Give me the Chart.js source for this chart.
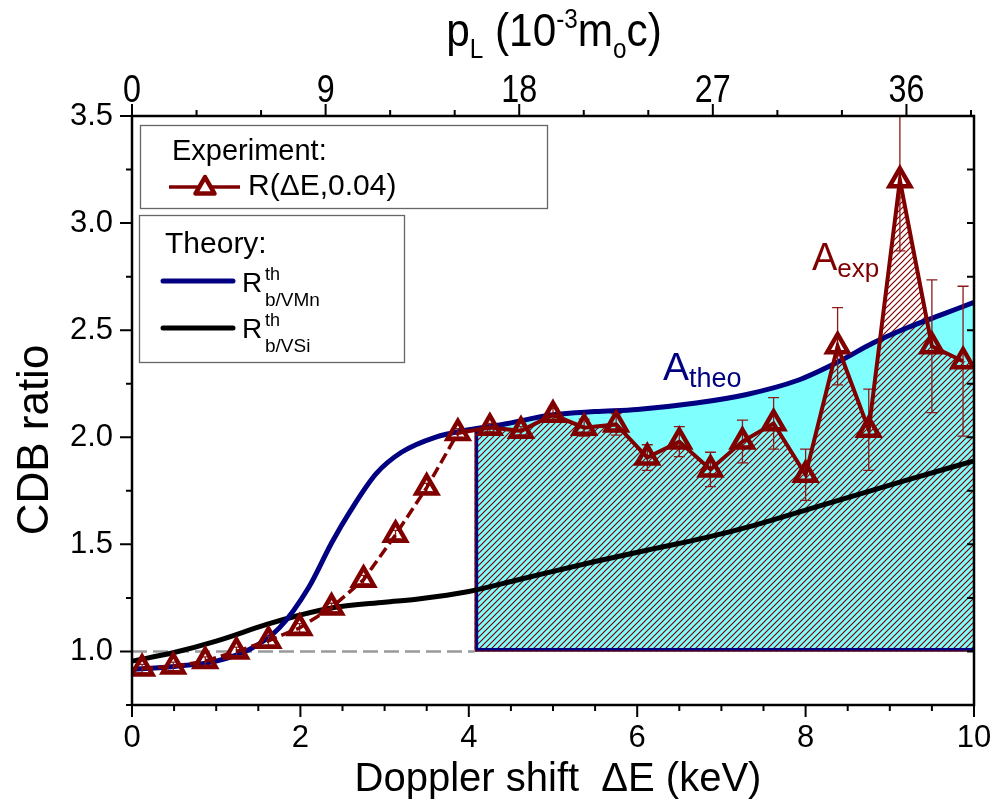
<!DOCTYPE html>
<html>
<head>
<meta charset="utf-8">
<script src="https://cdn.jsdelivr.net/npm/chart.js@4.4.0/dist/chart.umd.min.js"></script>
<style>
  html, body { margin: 0; padding: 0; background: #fff; }
  #wrap { width: 997px; height: 807px; position: relative; }
</style>
</head>
<body>
<div id="wrap"><canvas id="myChart"></canvas></div>
<script>
// measured CDB ratio R(dE, 0.04)
const expE = [0.12, 0.49, 0.87, 1.24, 1.62, 1.99, 2.37, 2.75, 3.13, 3.50, 3.87, 4.25, 4.62, 5.00,
              5.37, 5.75, 6.12, 6.50, 6.87, 7.25, 7.62, 8.00, 8.38, 8.75, 9.12, 9.50, 9.87];
const expR = [0.92, 0.93, 0.955, 1.0, 1.05, 1.11, 1.205, 1.335, 1.545, 1.765, 2.02, 2.045, 2.03, 2.105,
              2.045, 2.06, 1.905, 1.98, 1.85, 1.98, 2.065, 1.825, 2.425, 2.035, 3.2, 2.425, 2.355];
const expErr = [0.02, 0.02, 0.02, 0.02, 0.02, 0.02, 0.02, 0.02, 0.02, 0.02, 0.02, 0.02, 0.02, 0.03,
                0.04, 0.05, 0.06, 0.07, 0.08, 0.1, 0.12, 0.12, 0.18, 0.19, 0.33, 0.31, 0.35];

// theory, b/VMn
const vmnE = [0, 0.5, 1.0, 1.4, 1.75, 2.1, 2.375, 2.6, 2.9, 3.2, 3.6, 4.0, 4.4, 5.0, 5.5, 6.0,
              6.7, 7.3, 7.9, 8.4, 8.8, 9.2, 9.6, 10];
const vmnR = [0.916, 0.93, 0.955, 1.01, 1.11, 1.3, 1.51, 1.66, 1.83, 1.93, 2.0, 2.035, 2.06, 2.105, 2.12, 2.13,
              2.16, 2.2, 2.265, 2.355, 2.44, 2.51, 2.57, 2.63];

// theory, b/VSi
const vsiE = [0, 0.5, 1.0, 1.6, 2.0, 2.4, 3.0, 3.4, 4.0, 4.6, 5.5, 6.2, 6.8, 7.4, 8.0, 8.6, 9.2, 10];
const vsiR = [0.955, 0.995, 1.048, 1.126, 1.17, 1.205, 1.23, 1.245, 1.28, 1.336, 1.42, 1.48, 1.53, 1.59,
              1.66, 1.73, 1.8, 1.89];

const shadeStart = 4.07;   // keV, left edge of the shaded areas
const refLevel = 1.0;

const xTicks = [0, 2, 4, 6, 8, 10];
const xMinor = [0.5, 1, 1.5, 2.5, 3, 3.5, 4.5, 5, 5.5, 6.5, 7, 7.5, 8.5, 9, 9.5];
const yTicks = [1.0, 1.5, 2.0, 2.5, 3.0, 3.5];
const yMinor = [0.75, 1.25, 1.75, 2.25, 2.75, 3.25];
const pTicks = [0, 9, 18, 27, 36];
const pMinor = [3, 6, 12, 15, 21, 24, 30, 33, 39];
const pPerKeV = 3.914;     // p_L (10^-3 m0c) per keV of Doppler shift

const red = '#800000';
const navy = '#000080';
const sans = '"Liberation Sans", Arial, sans-serif';

function hatchPattern(ctx) {
    const c = document.createElement('canvas');
    c.width = 6; c.height = 6;
    const g = c.getContext('2d');
    g.strokeStyle = red;
    g.lineWidth = 1.2;
    g.beginPath();
    g.moveTo(0, 6); g.lineTo(6, 0);
    g.moveTo(-1, 1); g.lineTo(1, -1);
    g.moveTo(5, 7); g.lineTo(7, 5);
    g.stroke();
    return ctx.createPattern(c, 'repeat');
}

function theoPath(chart, ctx, x0, y1) {
    const line = chart.getDatasetMeta(1).dataset;
    line.updateControlPoints(chart.chartArea, 'x');
    ctx.beginPath();
    line.path(ctx);
    ctx.lineTo(chart.chartArea.right, y1);
    ctx.lineTo(x0 - 20, y1);
    ctx.closePath();
}

function expPath(chart, ctx, y1) {
    const pts = chart.getDatasetMeta(0).data;
    ctx.beginPath();
    ctx.moveTo(pts[0].x, y1);
    pts.forEach(p => ctx.lineTo(p.x, p.y));
    ctx.lineTo(chart.chartArea.right, pts[pts.length - 1].y);
    ctx.lineTo(chart.chartArea.right, y1);
    ctx.closePath();
}

const areas = {
    id: 'areas',
    beforeDatasetsDraw(chart) {
        const {ctx, chartArea: a, scales: {x, y}} = chart;
        const x0 = x.getPixelForValue(shadeStart);
        const y1 = y.getPixelForValue(refLevel);
        ctx.save();
        ctx.beginPath();
        ctx.rect(x0, a.top, a.right - x0, a.bottom - a.top);
        ctx.clip();

        theoPath(chart, ctx, x0, y1);
        ctx.fillStyle = '#80ffff';
        ctx.fill();

        expPath(chart, ctx, y1);
        ctx.fillStyle = hatchPattern(ctx);
        ctx.fill();

        // outline of the two areas (left and bottom edges)
        ctx.save();
        theoPath(chart, ctx, x0, y1);
        ctx.clip();
        ctx.beginPath();
        ctx.moveTo(x0, a.top);
        ctx.lineTo(x0, y1);
        ctx.lineTo(a.right, y1);
        ctx.strokeStyle = navy;
        ctx.lineWidth = 7;
        ctx.stroke();
        ctx.restore();

        expPath(chart, ctx, y1);
        ctx.clip();
        ctx.beginPath();
        ctx.moveTo(x0, a.top);
        ctx.lineTo(x0, y1);
        ctx.lineTo(a.right, y1);
        ctx.strokeStyle = red;
        ctx.lineWidth = 2;
        ctx.stroke();
        ctx.restore();
    },
    beforeDatasetDraw(chart, args) {
        if (args.index !== 0) return;
        const {ctx, chartArea: a, scales: {x, y}} = chart;
        ctx.save();
        ctx.beginPath();
        ctx.rect(a.left, a.top, a.right - a.left, a.bottom - a.top);
        ctx.clip();
        ctx.strokeStyle = '#8b1a1a';
        ctx.lineWidth = 1.3;
        ctx.beginPath();
        expE.forEach((e, i) => {
            const px = x.getPixelForValue(e);
            const top = y.getPixelForValue(expR[i] + expErr[i]);
            const bot = y.getPixelForValue(expR[i] - expErr[i]);
            ctx.moveTo(px, top); ctx.lineTo(px, bot);
            ctx.moveTo(px - 5.5, top); ctx.lineTo(px + 5.5, top);
            ctx.moveTo(px - 5.5, bot); ctx.lineTo(px + 5.5, bot);
        });
        ctx.stroke();
        ctx.restore();
    }
};

function richText(ctx, parts, x, base, align) {
    let w = 0;
    parts.forEach(p => { ctx.font = p.font; w += ctx.measureText(p.t).width; });
    let cx = align === 'center' ? x - w / 2 : x;
    parts.forEach(p => {
        ctx.font = p.font;
        ctx.fillText(p.t, cx, base + (p.dy || 0));
        cx += ctx.measureText(p.t).width;
    });
}

function triangle(ctx, cx, cy, r) {
    ctx.beginPath();
    for (let k = 0; k < 3; k++) {
        const ang = -Math.PI / 2 + k * 2 * Math.PI / 3;
        const px = cx + Math.cos(ang) * r, py = cy + Math.sin(ang) * r;
        if (k === 0) ctx.moveTo(px, py); else ctx.lineTo(px, py);
    }
    ctx.closePath();
}

const decor = {
    id: 'decor',
    afterDraw(chart) {
        const {ctx, chartArea: a, scales: {x, y, x2}} = chart;
        ctx.save();

        // frame and ticks
        ctx.strokeStyle = '#000';
        ctx.lineWidth = 2.5;
        ctx.strokeRect(a.left, a.top, a.right - a.left, a.bottom - a.top);
        ctx.lineWidth = 2;
        ctx.beginPath();
        const tick = (xa, ya, xb, yb) => { ctx.moveTo(xa, ya); ctx.lineTo(xb, yb); };
        xTicks.forEach(v => { const p = x.getPixelForValue(v); tick(p, a.bottom, p, a.bottom + 12); });
        xMinor.forEach(v => { const p = x.getPixelForValue(v); tick(p, a.bottom, p, a.bottom + 6); });
        pTicks.forEach(v => { const p = x2.getPixelForValue(v); tick(p, a.top, p, a.top - 12); });
        pMinor.forEach(v => { const p = x2.getPixelForValue(v); tick(p, a.top, p, a.top - 6); });
        yTicks.forEach(v => { const p = y.getPixelForValue(v); tick(a.left, p, a.left - 12, p); tick(a.right, p, a.right - 7, p); });
        yMinor.forEach(v => { const p = y.getPixelForValue(v); tick(a.left, p, a.left - 6, p); tick(a.right, p, a.right - 7, p); });
        ctx.stroke();

        // top axis labels and title, condensed like the original
        ctx.fillStyle = '#000';
        ctx.textBaseline = 'alphabetic';
        ctx.textAlign = 'center';
        ctx.font = '38px ' + sans;
        pTicks.forEach(v => {
            ctx.save();
            ctx.translate(x2.getPixelForValue(v), 101.5);
            ctx.scale(0.85, 1);
            ctx.fillText(String(v), 0, 0);
            ctx.restore();
        });
        ctx.save();
        ctx.translate(554, 46);
        ctx.scale(0.9, 1);
        ctx.textAlign = 'left';
        richText(ctx, [
            {t: 'p', font: '47px ' + sans},
            {t: 'L', font: '27px ' + sans, dy: 12},
            {t: ' (10', font: '47px ' + sans},
            {t: '-3', font: '27px ' + sans, dy: -18},
            {t: 'm', font: '47px ' + sans},
            {t: 'o', font: '27px ' + sans, dy: 12},
            {t: 'c)', font: '47px ' + sans}
        ], 0, 0, 'center');
        ctx.restore();

        // axis titles
        ctx.textAlign = 'center';
        ctx.font = '40px ' + sans;
        ctx.fillText('Doppler shift  \u0394E (keV)', 558, 791);
        ctx.save();
        ctx.translate(48, 440);
        ctx.rotate(-Math.PI / 2);
        ctx.font = '44px ' + sans;
        ctx.fillText('CDB ratio', 0, 0);
        ctx.restore();
        ctx.textAlign = 'left';

        // legend boxes
        ctx.strokeStyle = '#666';
        ctx.lineWidth = 1.3;
        ctx.strokeRect(140.5, 125.5, 407, 83);
        ctx.strokeRect(139.5, 215.5, 265, 147);

        ctx.font = '29px ' + sans;
        ctx.fillText('Experiment:', 172, 160);
        ctx.strokeStyle = red;
        ctx.lineWidth = 3.5;
        ctx.beginPath();
        ctx.moveTo(169, 187); ctx.lineTo(240, 187);
        ctx.stroke();
        ctx.lineWidth = 4.5;
        ctx.lineJoin = 'round';
        triangle(ctx, 205, 188, 11);
        ctx.fillStyle = '#fff';
        ctx.fill();
        ctx.stroke();
        ctx.fillStyle = '#000';
        ctx.font = '30px ' + sans;
        ctx.fillText('R(\u0394E,0.04)', 248, 195);

        ctx.fillText('Theory:', 165, 253);
        ctx.lineCap = 'round';
        ctx.lineWidth = 5;
        ctx.strokeStyle = navy;
        ctx.beginPath(); ctx.moveTo(163, 281); ctx.lineTo(233, 281); ctx.stroke();
        ctx.strokeStyle = '#000';
        ctx.beginPath(); ctx.moveTo(163, 328); ctx.lineTo(233, 328); ctx.stroke();
        ctx.font = '28px ' + sans;
        ctx.fillText('R', 242, 292);
        ctx.fillText('R', 242, 338);
        ctx.font = '18px ' + sans;
        ctx.fillText('th', 265, 280);
        ctx.fillText('th', 265, 326);
        ctx.font = '19px ' + sans;
        ctx.fillText('b/VMn', 265, 306);
        ctx.fillText('b/VSi', 265, 352);

        // area labels
        ctx.fillStyle = navy;
        richText(ctx, [
            {t: 'A', font: '39px ' + sans},
            {t: 'theo', font: '27px ' + sans, dy: 7}
        ], 663, 380, 'left');
        ctx.fillStyle = red;
        richText(ctx, [
            {t: 'A', font: '38px ' + sans},
            {t: 'exp', font: '26px ' + sans, dy: 7}
        ], 812, 270, 'left');
        ctx.restore();
    }
};

const expData = expE.map((e, i) => ({x: e, y: expR[i]}));
const vmnData = vmnE.map((e, i) => ({x: e, y: vmnR[i]}));
const vsiData = vsiE.map((e, i) => ({x: e, y: vsiR[i]}));
const refData = [{x: 0, y: refLevel}, {x: shadeStart, y: refLevel}];

const ctx = document.getElementById('myChart').getContext('2d');
new Chart(ctx, {
    type: 'line',
    data: {
        datasets: [{
            label: 'R(\u0394E,0.04)',
            data: expData,
            borderColor: red,
            borderWidth: 4,
            pointStyle: 'triangle',
            pointRadius: 12,
            pointBorderWidth: 4.5,
            pointBorderColor: red,
            pointBackgroundColor: 'rgba(0,0,0,0)',
            segment: {
                borderDash: c => c.p0.parsed.x < 3.8 ? [11, 5] : undefined,
                borderWidth: c => c.p0.parsed.x < 3.8 ? 3.5 : 4
            }
        }, {
            label: 'R th b/VMn',
            data: vmnData,
            borderColor: navy,
            borderWidth: 5,
            pointRadius: 0,
            cubicInterpolationMode: 'monotone'
        }, {
            label: 'R th b/VSi',
            data: vsiData,
            borderColor: '#000',
            borderWidth: 5,
            pointRadius: 0,
            cubicInterpolationMode: 'monotone'
        }, {
            label: 'ref',
            data: refData,
            borderColor: '#999',
            borderWidth: 2.5,
            borderDash: [15, 6],
            pointRadius: 0
        }]
    },
    options: {
        animation: false,
        responsive: true,
        maintainAspectRatio: false,
        layout: {padding: {right: 23}},
        plugins: {
            legend: {display: false},
            tooltip: {enabled: false}
        },
        scales: {
            x: {
                type: 'linear',
                position: 'bottom',
                min: 0,
                max: 10,
                afterFit: s => { s.height = 102; },
                afterBuildTicks: s => { s.ticks = xTicks.map(v => ({value: v})); },
                grid: {display: false, tickLength: 12},
                border: {display: false},
                ticks: {
                    autoSkip: false,
                    maxRotation: 0,
                    padding: 3,
                    color: '#000',
                    font: {family: sans, size: 31}
                }
            },
            x2: {
                type: 'linear',
                position: 'top',
                min: 0,
                max: 10 * pPerKeV,
                afterFit: s => { s.height = 116; },
                afterBuildTicks: s => { s.ticks = pTicks.map(v => ({value: v})); },
                grid: {display: false},
                border: {display: false},
                ticks: {display: false}
            },
            y: {
                type: 'linear',
                min: 0.75,
                max: 3.5,
                afterFit: s => { s.width = 132; },
                afterBuildTicks: s => { s.ticks = yTicks.map(v => ({value: v})); },
                grid: {display: false, tickLength: 12},
                border: {display: false},
                ticks: {
                    padding: 7,
                    color: '#000',
                    font: {family: sans, size: 31},
                    callback: v => v.toFixed(1)
                }
            }
        }
    },
    plugins: [areas, decor]
});
</script>
</body>
</html>
